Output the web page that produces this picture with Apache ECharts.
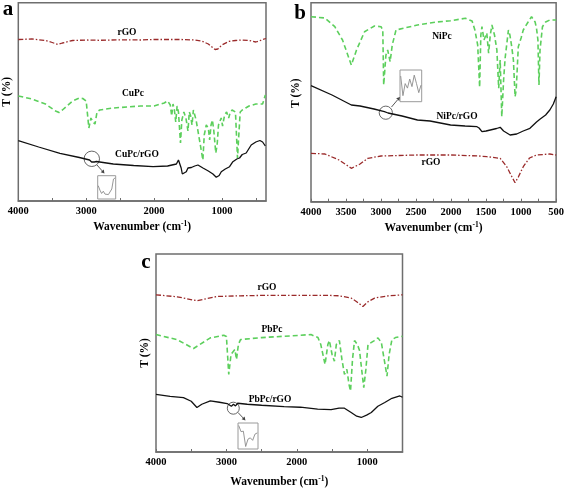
<!DOCTYPE html>
<html><head><meta charset="utf-8">
<script src="https://cdn.jsdelivr.net/npm/echarts@6/dist/echarts.min.js"></script>
<style>html,body{margin:0;padding:0;background:#fff}#c{width:567px;height:489px}</style>
</head><body><div id="c"></div>
<script>
// ---------- Panel a ----------
const wnA_rGO = [4000,3800,3600,3500,3420,3350,3200,3000,2800,2500,2200,2000,1600,1400,1300,1200,1100,1060,1000,900,800,700,600,500,450,400,350];
const tA_rGO  = [161.5,162,160.5,158.5,156.5,158,160.5,161,160.7,161.2,161,161.5,161.5,161,160,157,151.5,152,156,159.5,160.5,161,160.5,159,160,161.5,162.5];
const wnA_CuPc = [4000,3800,3600,3450,3400,3350,3200,3100,3050,3000,2960,2930,2900,2870,2840,2800,2600,2400,2200,2000,1850,1800,1760,1740,1720,1700,1680,1660,1640,1610,1590,1560,1530,1500,1480,1460,1440,1420,1400,1380,1330,1300,1280,1260,1230,1200,1180,1160,1140,1120,1090,1070,1050,1010,990,960,930,900,880,850,800,770,755,730,700,650,600,500,400,360];
const tA_CuPc  = [105,102,97,90,88.5,91,100,103,102.5,100,73,83,79,77,89,91,93,94,95,95,98,100,96,85,97,91,79,95,89,58,81,89,83,70,89,85,76,91,93,81,61,49,41,66,76,73,61,76,81,71,48,56,76,83,75,86,89,83,88,91,89,43,61,89,91,93,95,97,97,106];
const wnA_Comp = [4000,3700,3386,3100,2950,2920,2900,2880,2850,2600,2300,2015,1800,1670,1640,1621,1600,1583,1560,1525,1500,1450,1400,1376,1353,1328,1279,1200,1132,1083,1040,1009,950,887,838,780,765,755,740,700,642,568,500,471,440,400,360];
const tA_Comp  = [60.3,54,47.7,43.5,41,39,40.5,39,39.5,37,35.5,34.3,35,37,41,40,33,27,28.5,29.3,33,33.5,35,34.3,36,34,33,30,27,23.7,25.5,29.3,32,34.3,39.3,42,44,41,43,46.5,48,56,59,60.3,60.5,59,55];

// ---------- Panel b ----------
const wnB_NiPc = [4000,3800,3660,3550,3424,3350,3235,3094,3000,2975,2962,2930,2905,2870,2840,2786,2480,2200,2007,1795,1700,1660,1620,1592,1575,1559,1530,1511,1490,1464,1440,1417,1380,1346,1320,1299,1276,1250,1228,1181,1160,1134,1110,1086,1070,1040,1000,969,900,851,800,780,760,745,730,695,650,590,500];
const tB_NiPc  = [185,183.7,175,161.7,136.7,151.7,170,175.7,175,171.7,116.7,146.7,151.7,140,156.7,171.7,176.7,179.7,181,183.4,180.7,171.7,156.7,114.4,166.7,175,161.7,160,168.7,148.4,166.7,176.7,166.7,151.7,113.4,141.7,85,121.7,143.7,171.7,166.7,155,141.7,105,111.7,155,163.7,171.7,179.7,185,179.7,173.4,161.7,116.7,151.7,175,179.7,181.7,181.7];
const wnB_Comp = [4000,3700,3424,3300,3100,2952,2900,2700,2480,2300,2007,1800,1630,1600,1559,1500,1440,1350,1299,1250,1157,1063,970,874,780,732,650,590,540,500];
const tB_Comp  = [116,106.7,96.7,95.7,92.7,90,88.7,85.7,81.7,80.7,76.7,75.7,75,73.7,70,70.7,71.7,73.2,74.4,70.7,66.7,67.7,70.7,73.4,79.7,82.4,86.7,91.7,97.7,105];
const wnB_rGO = [4000,3800,3600,3424,3300,3188,3000,2500,2000,1600,1488,1299,1205,1130,1086,1040,969,880,780,590,500];
const tB_rGO  = [48.4,47.7,41.7,33.4,37.7,43.4,45.7,46.7,46.7,45.7,45,43.4,35,24.7,19,24.7,35,43.7,46.7,47.7,46.7];

// ---------- Panel c ----------
const wnC_rGO = [4000,3700,3419,3133,2800,2400,2000,1600,1400,1229,1150,1062,990,896,700,500];
const tC_rGO  = [158,156,152,156.3,157,157.5,157.5,157.5,157,154.7,151,146.3,151,154.7,157,158];
const wnC_PbPc = [4000,3705,3467,3229,3038,3000,2967,2935,2919,2880,2857,2830,2800,2500,2181,1800,1700,1660,1633,1600,1586,1560,1538,1500,1467,1440,1396,1360,1324,1290,1260,1238,1210,1181,1140,1110,1080,1050,1020,990,967,900,848,800,760,720,690,650,600,500];
const tC_PbPc  = [118,113,104,114.7,117.3,116,78,98,98,103,93,108,113,115,116.3,118,115,108,108,88,88,108,112,98,91.3,108,112,93,78,83,68,61.3,93,112,108,102,83,64.7,83,108,108,112,114.7,110,93,76.3,98,113,115,116.3];
const wnC_Comp = [4000,3800,3610,3500,3419,3350,3229,3100,2990,2930,2900,2871,2840,2705,2500,2181,1950,1705,1514,1400,1324,1229,1150,1086,1010,943,850,752,650,538,500];
const tC_Comp  = [58,56,54.7,51,44.7,48,51.3,50,48.7,46,48,46.3,49,48,47,45.7,45,43,42.5,44,44,39.7,36,34.7,37,39.7,46,49.7,54,56.3,55];

// ---------- Insets (magnified detail, arbitrary units) ----------
const insetA = [60,40,25,35,22,30,20,28,45,90,95];
const insetB = [85,20,60,45,75,50,88,60,30,55];
const insetC = [95,70,72,10,40,45,35,60,65];

// ---------- Axis ticks / labels ----------
const ticksA = [4000,3500,3000,2500,2000,1500,1000,500];
const labelsA = [4000,3000,2000,1000];
const ticksB = [4000,3750,3500,3250,3000,2750,2500,2250,2000,1750,1500,1250,1000,750,500];
const labelsB = [4000,3500,3000,2500,2000,1500,1000,500];
const ticksC = [4000,3500,3000,2500,2000,1500,1000,500];
const labelsC = [4000,3000,2000,1000];

const zip = (xs, ys) => xs.map((x, i) => [x, ys[i]]);
const idx = ys => ys.map((y, i) => [i, y]);

const SERIF = '"Liberation Serif", "DejaVu Serif", serif';
const RED = '#9a2a2a', GREEN = '#5ccf5c', BLACK = '#111111', FRAME = '#6e6e6e';

const grids = [
  {left: 18.3, top: 2.7, width: 247.7, height: 198.3},
  {left: 311, top: 2.7, width: 247.3, height: 199},
  {left: 156, top: 254, width: 246.5, height: 199},
  {left: 97.7, top: 175.7, width: 18, height: 23.3},
  {left: 400, top: 70, width: 21.7, height: 31.7},
  {left: 238, top: 423, width: 20, height: 26}
].map((g, i) => Object.assign({show: true, containLabel: false, backgroundColor: 'transparent',
  borderColor: i < 3 ? FRAME : '#9a9a9a', borderWidth: i < 3 ? 1.5 : 1}, g));

function mainX(gi, min, ticks, labels, gap) {
  return {
    type: 'value', gridIndex: gi, inverse: true, min: min, max: 4000,
    axisLine: {show: true, onZero: false, lineStyle: {color: FRAME, width: 1.5}},
    axisTick: {show: true, inside: true, length: 3, customValues: ticks, lineStyle: {color: FRAME, width: 1}},
    axisLabel: {show: true, customValues: labels, margin: 5, color: '#000', fontFamily: SERIF, fontWeight: 'bold', fontSize: 10.5,
      showMinLabel: true, showMaxLabel: true, formatter: v => String(Math.round(v))},
    splitLine: {show: false},
    name: 'Wavenumber (cm{sup|-1})', nameLocation: 'middle', nameGap: gap,
    nameTextStyle: {color: '#000', fontFamily: SERIF, fontWeight: 'bold', fontSize: 11.5,
      rich: {sup: {fontSize: 7.5, fontFamily: SERIF, fontWeight: 'bold', color: '#000', verticalAlign: 'top', padding: [0, 0, 6, 0]}}}
  };
}
function mainY(gi, max, gap, pad) {
  return {
    type: 'value', gridIndex: gi, min: 0, max: max,
    axisLine: {show: false}, axisTick: {show: false}, axisLabel: {show: false}, splitLine: {show: false},
    name: 'T (%)', nameLocation: 'middle', nameGap: gap, nameRotate: 90,
    nameTextStyle: {color: '#000', fontFamily: SERIF, fontWeight: 'bold', fontSize: 11.5, padding: pad}
  };
}
function insetX(gi, n) {
  return {type: 'value', gridIndex: gi, min: -0.3, max: n - 0.7, show: false};
}
function insetY(gi) {
  return {type: 'value', gridIndex: gi, min: 0, max: 105, show: false};
}

function line(name, xi, data, color, type, width) {
  return {type: 'line', name: name, xAxisIndex: xi, yAxisIndex: xi, data: data, symbol: 'none',
    silent: true, animation: false, lineStyle: {color: color, type: type, width: width}};
}
const dashDot = [5, 2, 1.5, 2];
const dash = [5, 3];

const series = [
  line('rGO', 0, zip(wnA_rGO, tA_rGO), RED, dashDot, 1.3),
  line('CuPc', 0, zip(wnA_CuPc, tA_CuPc), GREEN, dash, 1.6),
  line('CuPc/rGO', 0, zip(wnA_Comp, tA_Comp), BLACK, 'solid', 1.3),
  line('NiPc', 1, zip(wnB_NiPc, tB_NiPc), GREEN, dash, 1.6),
  line('NiPc/rGO', 1, zip(wnB_Comp, tB_Comp), BLACK, 'solid', 1.3),
  line('rGO', 1, zip(wnB_rGO, tB_rGO), RED, dashDot, 1.3),
  line('rGO', 2, zip(wnC_rGO, tC_rGO), RED, dashDot, 1.3),
  line('PbPc', 2, zip(wnC_PbPc, tC_PbPc), GREEN, dash, 1.6),
  line('PbPc/rGO', 2, zip(wnC_Comp, tC_Comp), BLACK, 'solid', 1.3),
  line('insetA', 3, idx(insetA), '#8a8a8a', 'solid', 0.9),
  line('insetB', 4, idx(insetB), '#8a8a8a', 'solid', 0.9),
  line('insetC', 5, idx(insetC), '#8a8a8a', 'solid', 0.9)
];

function txt(x, y, s, size) {
  return {type: 'text', x: x, y: y, silent: true,
    style: {text: s, fill: '#000', font: 'bold ' + size + 'px ' + SERIF, align: 'center', verticalAlign: 'middle'}};
}
function circ(cx, cy, r) {
  return {type: 'circle', silent: true, shape: {cx: cx, cy: cy, r: r}, style: {fill: 'none', stroke: '#555', lineWidth: 0.9}};
}
function arrow(x1, y1, x2, y2) {
  const a = Math.atan2(y2 - y1, x2 - x1), h = 3.5, w = 2;
  const bx = x2 - h * Math.cos(a), by = y2 - h * Math.sin(a);
  const px = -Math.sin(a) * w, py = Math.cos(a) * w;
  return [
    {type: 'line', silent: true, shape: {x1: x1, y1: y1, x2: bx, y2: by}, style: {stroke: '#444', lineWidth: 0.9}},
    {type: 'polygon', silent: true, shape: {points: [[x2, y2], [bx + px, by + py], [bx - px, by - py]]}, style: {fill: '#444'}}
  ];
}

const graphic = [
  txt(8, 10, 'a', 21), txt(300, 14, 'b', 21), txt(146, 263, 'c', 21),
  txt(127, 33, 'rGO', 9.5), txt(133, 94, 'CuPc', 9.5), txt(137, 155, 'CuPc/rGO', 9.5),
  txt(442, 37, 'NiPc', 9.5), txt(457, 117, 'NiPc/rGO', 9.5), txt(431, 163, 'rGO', 9.5),
  txt(267, 288, 'rGO', 9.5), txt(272, 330, 'PbPc', 9.5), txt(270, 400, 'PbPc/rGO', 9.5),
  circ(91.8, 158.8, 7.7), circ(385.8, 112.7, 6.6), circ(233.3, 408.2, 6)
].concat(arrow(97, 165, 104.5, 173.5), arrow(391.5, 107, 400, 97), arrow(238, 412.5, 245.5, 420.5));

const option = {
  animation: false,
  backgroundColor: '#fff',
  grid: grids,
  xAxis: [mainX(0, 350, ticksA, labelsA, 19), mainX(1, 500, ticksB, labelsB, 19), mainX(2, 500, ticksC, labelsC, 23),
          insetX(3, insetA.length), insetX(4, insetB.length), insetX(5, insetC.length)],
  yAxis: [mainY(0, 198.3, 5, [0, 0, 0, 20]), mainY(1, 199, 9, [0, 0, 0, 18]), mainY(2, 199, 5, [0, 0, 0, 0]),
          insetY(3), insetY(4), insetY(5)],
  series: series,
  graphic: graphic
};
const chart = echarts.init(document.getElementById('c'), null, {renderer: 'canvas'});
chart.setOption(option);
</script></body></html>
